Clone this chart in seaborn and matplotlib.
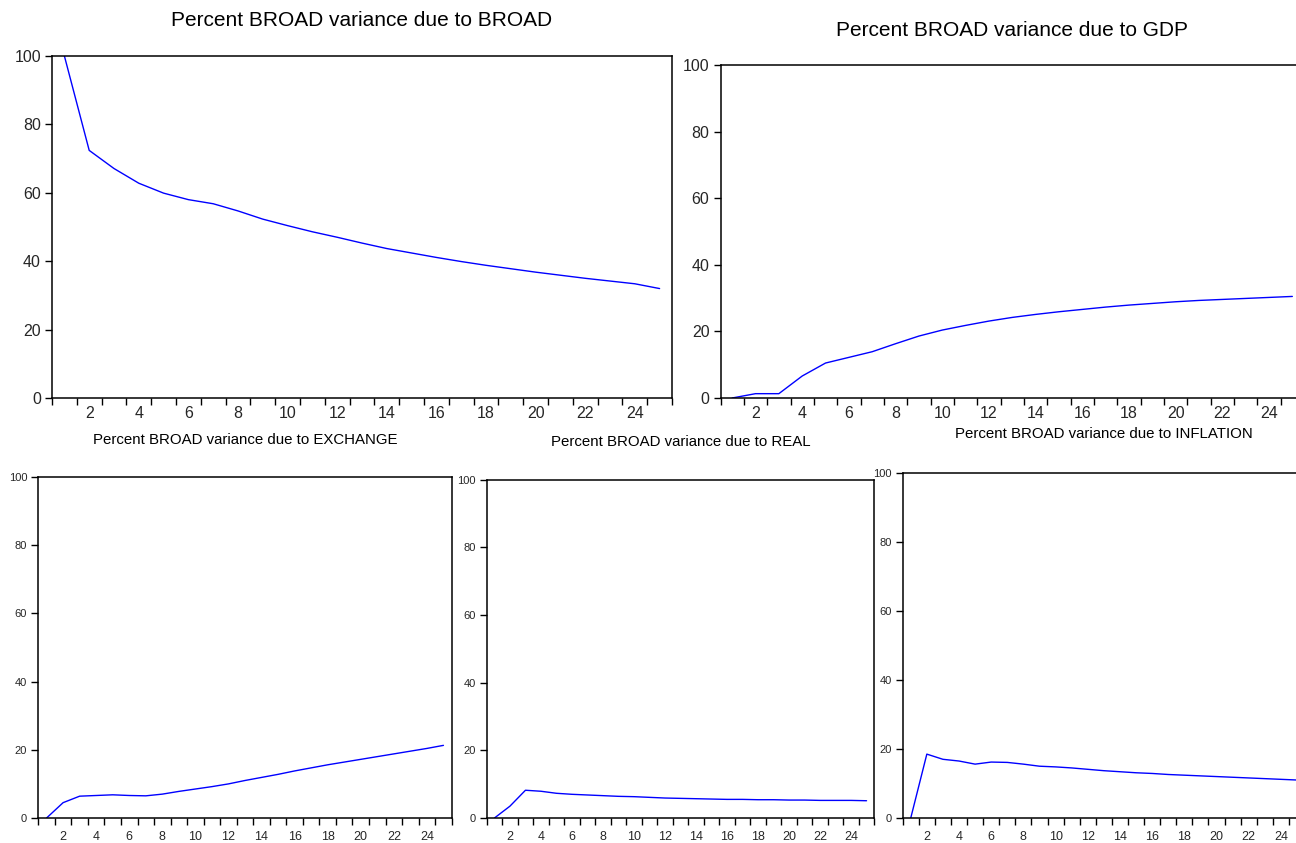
import numpy as np
import pandas as pd
import matplotlib
matplotlib.use("Agg")
import matplotlib.pyplot as plt
import seaborn as sns

sns.set_style("ticks")
plt.rcParams['font.family'] = ['Liberation Sans', 'DejaVu Sans']

# Variance decomposition of BROAD (percent), periods 1..25
periods = list(range(1, 26))

broad = [100.0, 72.4, 67.1, 62.8, 59.9, 58.0, 56.8, 54.7, 52.3, 50.4,
         48.6, 47.0, 45.3, 43.7, 42.4, 41.1, 39.9, 38.8, 37.8, 36.8,
         35.9, 35.0, 34.2, 33.4, 32.0]
gdp = [0.0, 1.3, 1.3, 6.6, 10.5, 12.2, 13.9, 16.3, 18.6, 20.4,
       21.8, 23.1, 24.2, 25.1, 25.9, 26.6, 27.3, 27.9, 28.4, 28.9,
       29.3, 29.6, 29.9, 30.2, 30.5]
exchange = [0.0, 4.5, 6.4, 6.6, 6.8, 6.6, 6.5, 7.0, 7.8, 8.5,
            9.2, 10.0, 11.0, 11.9, 12.8, 13.8, 14.7, 15.6, 16.4, 17.2,
            18.0, 18.8, 19.6, 20.4, 21.3]
real = [0.0, 3.5, 8.2, 7.9, 7.3, 7.0, 6.8, 6.6, 6.4, 6.3,
        6.1, 5.9, 5.8, 5.7, 5.6, 5.5, 5.5, 5.4, 5.4, 5.3,
        5.3, 5.2, 5.2, 5.2, 5.1]
inflation = [0.0, 18.5, 17.0, 16.5, 15.6, 16.2, 16.1, 15.6, 15.0, 14.8,
             14.5, 14.1, 13.7, 13.4, 13.1, 12.9, 12.6, 12.4, 12.2, 12.0,
             11.8, 11.6, 11.4, 11.2, 11.0]

titles = ["Percent BROAD variance due to BROAD",
          "Percent BROAD variance due to GDP",
          "Percent BROAD variance due to EXCHANGE",
          "Percent BROAD variance due to REAL",
          "Percent BROAD variance due to INFLATION"]

W, H = 1296, 843
fig = plt.figure(figsize=(W / 100, H / 100), dpi=100)
fig.patch.set_facecolor("white")

# panel boxes in pixels: left, right, top, bottom ; title centre x, y
panels = [
    (broad, (52, 672, 56, 398), (362, 20), False),
    (gdp, (720.5, 1304, 65, 398), (1012, 30), False),
    (exchange, (38.3, 451.7, 477, 818), (245, 440), True),
    (real, (486.7, 874.3, 479.5, 818), (681, 442), True),
    (inflation, (902.7, 1305, 472.7, 818), (1104, 434), True),
]

fam = ['Liberation Sans', 'DejaVu Sans']

for (values, box, tpos, small), title in zip(panels, titles):
    l, r, t, b = box
    ax = fig.add_axes([l / W, 1 - b / H, (r - l) / W, (b - t) / H])
    df = pd.DataFrame({"period": periods, "value": values})
    sns.lineplot(data=df, x="period", y="value", ax=ax,
                 color="#0000FF", linewidth=1.0)
    ax.set_xlim(0.5, 25.5)
    ax.set_ylim(0, 100)
    ax.set_xlabel("")
    ax.set_ylabel("")

    # period boundaries carry the ticks, even periods carry the labels
    ax.set_xticks(np.arange(0.5, 26, 1.0))
    ax.set_xticklabels([])
    ax.set_xticks(range(2, 25, 2), minor=True)
    ax.set_yticks(range(0, 101, 20))

    for side in ["left", "right", "top", "bottom"]:
        ax.spines[side].set_visible(True)
        ax.spines[side].set_color("black")
        ax.spines[side].set_linewidth(1.1)

    if small:
        tfs, xfs, yfs, xpad = 10.8, 9, 8, 9.5
    else:
        tfs, xfs, yfs, xpad = 15, 11.5, 11.5, 6

    ax.set_xticklabels([str(v) for v in range(2, 25, 2)], minor=True,
                       fontsize=xfs, family=fam)
    ax.set_yticklabels([str(v) for v in range(0, 101, 20)],
                       fontsize=yfs, family=fam)
    ax.tick_params(axis="x", which="major", direction="out", length=5,
                   width=1.0, color="black")
    ax.tick_params(axis="x", which="minor", length=0, pad=xpad)
    ax.tick_params(axis="y", direction="out", length=5, width=1.0,
                   color="black", pad=3)

    fig.text(tpos[0] / W, 1 - tpos[1] / H, title, ha="center", va="center",
             fontsize=tfs, family=fam, color="black")

fig.savefig("out.png", dpi=100, facecolor="white")
